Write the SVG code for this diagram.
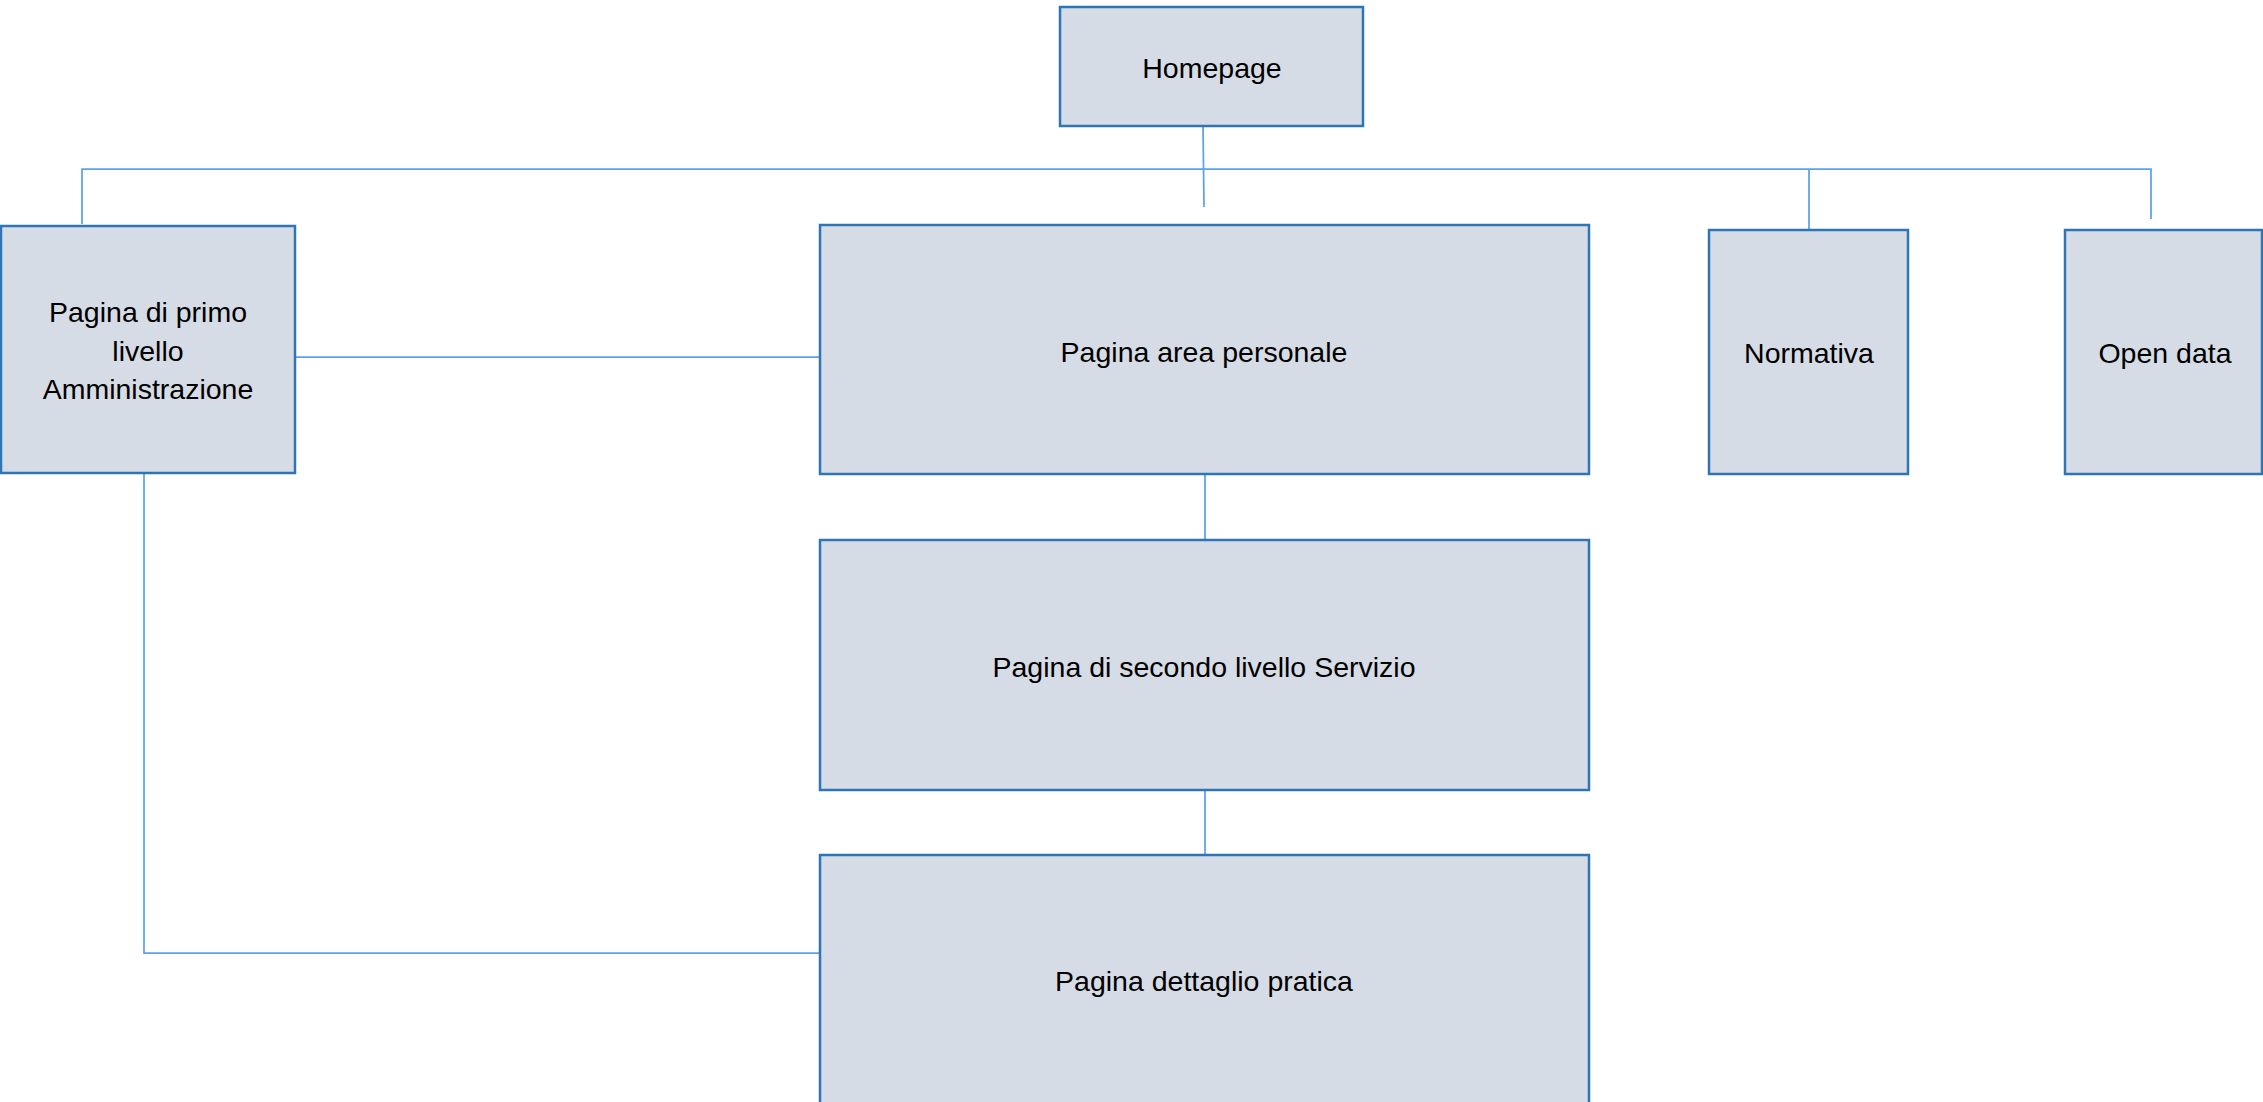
<svg xmlns="http://www.w3.org/2000/svg" width="2263" height="1102" viewBox="0 0 2263 1102">
<style>
.box{fill:#d6dce5;stroke:#2e75b6;stroke-width:2.5}
.lbl{font-family:"Liberation Sans",Arial,sans-serif;font-size:28.5px;fill:#000;text-anchor:middle}
.con{fill:none;stroke:#5ba3e8;stroke-width:1.75}
</style>
<rect width="2263" height="1102" fill="#fff"/>
<g id="connectors">
<line class="con" x1="1203" y1="126" x2="1204" y2="207"/>
<polyline class="con" points="82,224 82,169 2151,169 2151,219"/>
<line class="con" x1="1809" y1="169" x2="1809" y2="230"/>
<line class="con" x1="295" y1="357" x2="820" y2="357"/>
<line class="con" x1="1205" y1="474" x2="1205" y2="540"/>
<line class="con" x1="1205" y1="790" x2="1205" y2="855"/>
<polyline class="con" points="144,473 144,953 820,953"/>
</g>
<g id="homepage">
<rect class="box" x="1060" y="7" width="303" height="119"/>
<text class="lbl" x="1212" y="78">Homepage</text>
</g>
<g id="amministrazione">
<rect class="box" x="1" y="226" width="294" height="247"/>
<text class="lbl" x="148" y="322">Pagina di primo</text>
<text class="lbl" x="148" y="361">livello</text>
<text class="lbl" x="148" y="399">Amministrazione</text>
</g>
<g id="area-personale">
<rect class="box" x="820" y="225" width="769" height="249"/>
<text class="lbl" x="1204" y="362">Pagina area personale</text>
</g>
<g id="normativa">
<rect class="box" x="1709" y="230" width="199" height="244"/>
<text class="lbl" x="1809" y="363">Normativa</text>
</g>
<g id="open-data">
<rect class="box" x="2065" y="230" width="197" height="244"/>
<text class="lbl" x="2165" y="363">Open data</text>
</g>
<g id="servizio">
<rect class="box" x="820" y="540" width="769" height="250"/>
<text class="lbl" x="1204" y="677">Pagina di secondo livello Servizio</text>
</g>
<g id="dettaglio">
<rect class="box" x="820" y="855" width="769" height="300"/>
<text class="lbl" x="1204" y="991">Pagina dettaglio pratica</text>
</g>
</svg>
